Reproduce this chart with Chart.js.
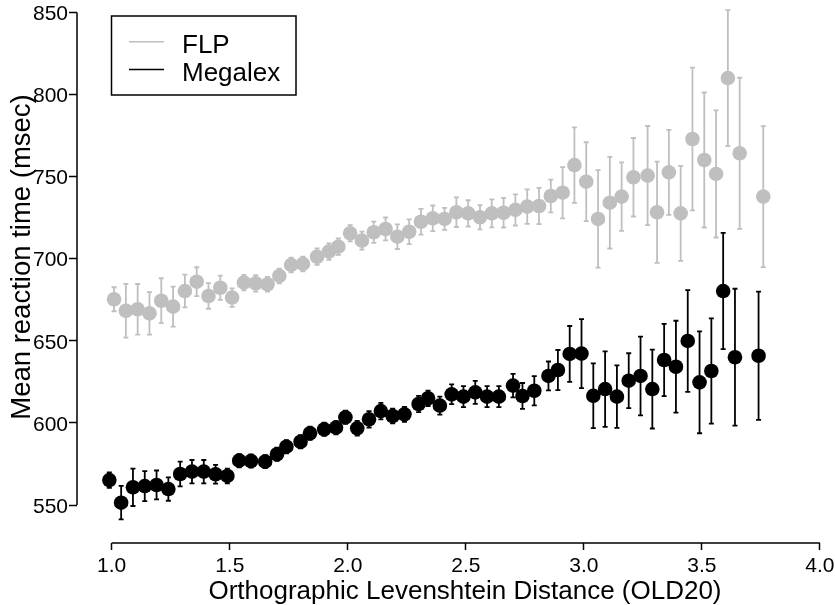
<!DOCTYPE html>
<html>
<head>
<meta charset="utf-8">
<script src="https://cdn.jsdelivr.net/npm/chart.js@4.4.0/dist/chart.umd.min.js"></script>
<style>
  html, body { margin: 0; padding: 0; background: #fff; overflow: hidden; width: 835px; height: 605px; }
  /* canvas is shifted up a little so the axis titles sit where the original puts them */
  #chart { position: absolute; left: 0; top: -29px; }
</style>
</head>
<body>
<canvas id="chart" width="853" height="634"></canvas>
<script>
const xTicks = [1.0, 1.5, 2.0, 2.5, 3.0, 3.5, 4.0];
const yTicks = [550, 600, 650, 700, 750, 800, 850];

// FLP: bin mean OLD20, mean RT, error bar half-length
const flpX = [1.01, 1.06, 1.11, 1.16, 1.21, 1.26, 1.31, 1.36, 1.41, 1.46, 1.51, 1.56, 1.61, 1.66, 1.71,
  1.76, 1.81, 1.87, 1.92, 1.96, 2.01, 2.06, 2.11, 2.16, 2.21, 2.26, 2.31, 2.36, 2.41, 2.46, 2.51,
  2.56, 2.61, 2.66, 2.71, 2.76, 2.81, 2.86, 2.91, 2.96, 3.01, 3.06, 3.11, 3.16, 3.21, 3.27, 3.31,
  3.36, 3.41, 3.46, 3.51, 3.56, 3.61, 3.66, 3.76];
const flpRT = [675.3, 668.3, 669.2, 666.7, 674.4, 670.8, 680.3, 686.0, 677.3, 682.3, 676.3, 685.4, 685.0,
  684.4, 689.5, 696.2, 696.8, 701.2, 704.3, 707.3, 715.5, 711.0, 716.1, 718.1, 713.4, 716.4, 722.5,
  724.6, 724.2, 728.3, 727.6, 725.2, 727.6, 728.0, 729.7, 731.7, 732.1, 738.2, 740.2, 757.0, 746.9,
  724.2, 734.1, 737.8, 749.6, 750.6, 728.3, 752.6, 727.6, 772.9, 760.1, 751.6, 810.0, 764.2, 737.8];
const flpErr = [7.3, 16.4, 15.4, 13.0, 13.7, 12.2, 10.0, 8.8, 7.8, 7.4, 5.6, 4.7, 5.0, 4.5, 4.5, 4.5, 4.5,
  5.0, 5.0, 5.0, 5.0, 5.5, 6.5, 7.0, 7.5, 7.5, 7.8, 7.8, 6.7, 9.0, 8.0, 7.4, 8.5, 9.0, 9.5, 10.5, 11.0,
  10.0, 15.6, 23.0, 24.0, 29.7, 27.9, 20.9, 23.9, 30.2, 30.8, 25.9, 28.9, 43.5, 41.1, 38.7, 41.4, 46.0, 42.9];

// Megalex
const megX = [0.99, 1.04, 1.09, 1.14, 1.19, 1.24, 1.29, 1.34, 1.39, 1.44, 1.49, 1.54, 1.59, 1.65, 1.70,
  1.74, 1.80, 1.84, 1.90, 1.95, 1.99, 2.04, 2.09, 2.14, 2.19, 2.24, 2.30, 2.34, 2.39, 2.44, 2.49,
  2.54, 2.59, 2.64, 2.70, 2.74, 2.79, 2.85, 2.89, 2.94, 2.99, 3.04, 3.09, 3.14, 3.19, 3.24, 3.29,
  3.34, 3.39, 3.44, 3.49, 3.54, 3.59, 3.64, 3.74];
const megRT = [565.2, 551.4, 560.8, 561.5, 562.2, 559.7, 568.9, 570.3, 570.3, 568.7, 567.7, 577.0, 576.8,
  576.4, 580.9, 585.5, 588.5, 593.7, 596.1, 597.1, 603.4, 596.7, 602.2, 607.2, 604.2, 605.2, 611.5,
  615.0, 610.5, 617.4, 616.0, 618.6, 616.0, 616.0, 622.7, 616.4, 619.6, 628.6, 632.2, 642.0, 642.2,
  616.5, 620.6, 616.0, 625.7, 628.6, 620.6, 638.3, 634.2, 649.9, 624.7, 631.6, 680.3, 640.0, 640.9];
const megErr = [4.7, 10.2, 11.4, 9.1, 8.8, 7.1, 7.5, 7.1, 7.1, 5.7, 4.5, 4.0, 4.0, 4.0, 4.0, 4.0, 4.0,
  4.0, 4.0, 4.0, 4.0, 4.5, 5.0, 5.0, 4.5, 4.5, 4.9, 4.7, 5.5, 6.0, 6.4, 7.0, 6.4, 6.4, 7.1, 7.9, 8.9,
  8.8, 12.2, 17.0, 21.0, 19.7, 23.0, 19.0, 16.7, 24.0, 24.0, 22.0, 28.0, 31.0, 31.0, 32.0, 35.4, 41.7, 39.0];

const FLP_COLOR = '#bfbfbf';
const MEG_COLOR = '#000000';
const FONT = "'Liberation Sans', Arial, Helvetica, sans-serif";

const toPoints = (xs, ys) => xs.map((x, i) => ({ x: x, y: ys[i] }));

// vertical error bars with small caps, under the markers
const errorBars = {
  id: 'errorBars',
  beforeDatasetsDraw(chart) {
    const { ctx, scales: { x, y } } = chart;
    ctx.save();
    chart.data.datasets.forEach((ds) => {
      ctx.strokeStyle = ds.borderColor;
      ctx.lineWidth = 1.8;
      ds.data.forEach((p, i) => {
        const px = x.getPixelForValue(p.x);
        const top = y.getPixelForValue(p.y + ds.errors[i]);
        const bot = y.getPixelForValue(p.y - ds.errors[i]);
        ctx.beginPath();
        ctx.moveTo(px, top);
        ctx.lineTo(px, bot);
        ctx.moveTo(px - 2.5, top);
        ctx.lineTo(px + 2.5, top);
        ctx.moveTo(px - 2.5, bot);
        ctx.lineTo(px + 2.5, bot);
        ctx.stroke();
      });
    });
    ctx.restore();
  }
};

// R-style axis lines that only run between the first and last tick
const axisLines = {
  id: 'axisLines',
  afterDraw(chart) {
    const { ctx, chartArea, scales: { x, y } } = chart;
    ctx.save();
    ctx.strokeStyle = '#000';
    ctx.lineWidth = 1.5;
    ctx.beginPath();
    ctx.moveTo(x.getPixelForValue(xTicks[0]), chartArea.bottom);
    ctx.lineTo(x.getPixelForValue(xTicks[xTicks.length - 1]), chartArea.bottom);
    ctx.moveTo(chartArea.left, y.getPixelForValue(yTicks[0]));
    ctx.lineTo(chartArea.left, y.getPixelForValue(yTicks[yTicks.length - 1]));
    ctx.stroke();
    ctx.restore();
  }
};

// boxed legend in the top left corner
const boxLegend = {
  id: 'boxLegend',
  afterDraw(chart) {
    const { ctx } = chart;
    const top = 45;
    ctx.save();
    ctx.strokeStyle = '#000';
    ctx.lineWidth = 1.5;
    ctx.strokeRect(111.5, top, 184.5, 79);
    ctx.font = '26px ' + FONT;
    ctx.textBaseline = 'alphabetic';
    ctx.textAlign = 'left';
    chart.data.datasets.forEach((ds, i) => {
      const ly = top + 25.7 + i * 27.8;
      ctx.strokeStyle = ds.borderColor;
      ctx.beginPath();
      ctx.moveTo(129, ly);
      ctx.lineTo(164, ly);
      ctx.stroke();
      ctx.fillStyle = '#000';
      ctx.fillText(ds.label, 182, ly + 11);
    });
    ctx.restore();
  }
};

new Chart(document.getElementById('chart'), {
  type: 'scatter',
  plugins: [errorBars, axisLines, boxLegend],
  data: {
    datasets: [
      {
        label: 'FLP',
        data: toPoints(flpX, flpRT),
        errors: flpErr,
        backgroundColor: FLP_COLOR,
        borderColor: FLP_COLOR,
        borderWidth: 0,
        pointRadius: 7.3,
        pointHoverRadius: 7.3,
      },
      {
        label: 'Megalex',
        data: toPoints(megX, megRT),
        errors: megErr,
        backgroundColor: MEG_COLOR,
        borderColor: MEG_COLOR,
        borderWidth: 0,
        pointRadius: 7.3,
        pointHoverRadius: 7.3,
      },
    ],
  },
  options: {
    responsive: false,
    animation: false,
    devicePixelRatio: 1,
    events: [],
    layout: { padding: 0, autoPadding: false },
    plugins: {
      legend: { display: false },
      tooltip: { enabled: false },
    },
    scales: {
      x: {
        type: 'linear',
        min: 0.853,
        max: 4.14,
        bounds: 'data',
        afterBuildTicks: (s) => { s.ticks = xTicks.map((v) => ({ value: v })); },
        afterFit: (s) => {
          s.height = 62;
          s.paddingLeft = 0; s.paddingRight = 0; s.paddingTop = 0; s.paddingBottom = 0;
        },
        grid: {
          drawOnChartArea: false,
          drawTicks: true,
          tickLength: 7,
          color: '#000',
          tickColor: '#000',
          tickWidth: 1.5,
        },
        border: { display: false },
        ticks: {
          color: '#000',
          font: { family: FONT, size: 21 },
          padding: 4,
          maxRotation: 0,
          autoSkip: false,
          callback: (v) => Number(v).toFixed(1),
        },
        title: {
          display: true,
          text: 'Orthographic Levenshtein Distance (OLD20)',
          color: '#000',
          font: { family: FONT, size: 26 },
          padding: { top: 0, bottom: -2 },
        },
      },
      y: {
        type: 'linear',
        min: 526.86,
        max: 875.2,
        bounds: 'data',
        afterBuildTicks: (s) => { s.ticks = yTicks.map((v) => ({ value: v })); },
        afterFit: (s) => {
          s.width = 77;
          s.paddingLeft = 0; s.paddingRight = 0; s.paddingTop = 0; s.paddingBottom = 0;
        },
        grid: {
          drawOnChartArea: false,
          drawTicks: true,
          tickLength: 8,
          color: '#000',
          tickColor: '#000',
          tickWidth: 1.5,
        },
        border: { display: false },
        ticks: {
          color: '#000',
          font: { family: FONT, size: 21 },
          padding: 1,
          labelOffset: 2,
          callback: (v) => String(v),
        },
        title: {
          display: true,
          text: 'Mean reaction time (msec)',
          color: '#000',
          font: { family: FONT, size: 27.5 },
          padding: { top: 6, bottom: 0 },
        },
      },
    },
  },
});
</script>
</body>
</html>
